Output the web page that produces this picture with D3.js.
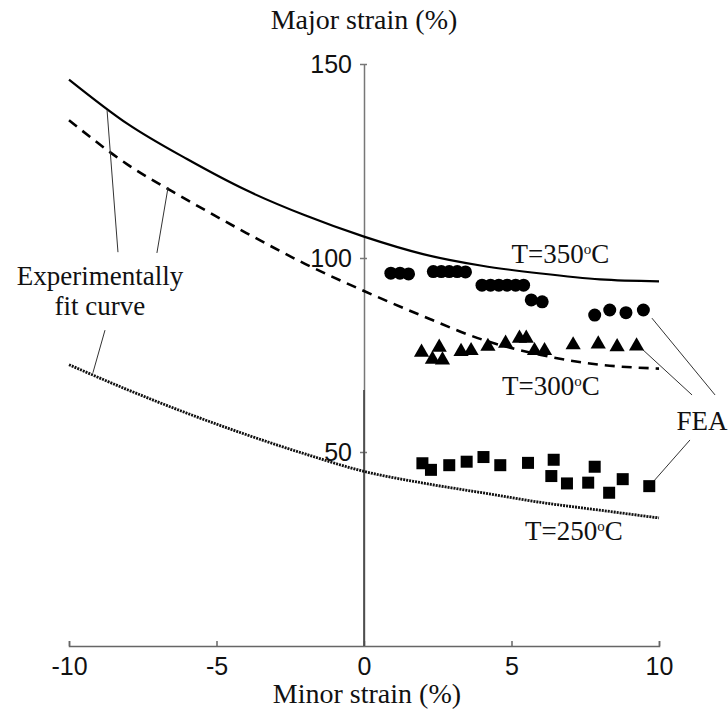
<!DOCTYPE html>
<html><head><meta charset="utf-8">
<script src="https://cdn.jsdelivr.net/npm/d3@7"></script>
<style>body{margin:0;background:#fff}svg{display:block}</style>
</head><body>
<script>
// ---- data ----
const curveX = [-10,-8,-6,-4,-2,0,2,4,6,8,10];
const fit350 = [146,134.5,125.5,117.5,111,105.5,101,98,96,94.5,94];
const fit300 = [135.5,124,115,106.5,98.5,91.5,85,79,75,72.5,71.5];
const fit250 = [72.5,66,60,54.5,49.5,45,42,39.5,37,35,33];

const fea350X = [0.91,1.22,1.51,2.35,2.62,2.89,3.16,3.44,4.0,4.29,4.57,4.85,5.14,5.41,5.67,6.04,7.82,8.33,8.88,9.47];
const fea350Y = [96.1,96.1,95.9,96.5,96.5,96.5,96.5,96.4,93.0,93.0,93.0,93.0,93.0,93.0,89.2,88.7,85.3,86.6,85.9,86.6];
const fea300X = [1.95,2.55,2.32,2.66,3.29,3.63,4.2,4.8,5.27,5.5,5.78,6.12,7.09,7.94,8.58,9.24];
const fea300Y = [75.7,77.0,73.9,73.7,75.9,76.1,77.2,78.0,79.3,79.3,76.1,76.1,77.6,77.8,77.1,77.3];
const fea250X = [1.98,2.27,2.89,3.48,4.05,4.62,5.56,6.43,6.35,6.88,7.6,7.82,8.31,8.77,9.67];
const fea250Y = [47.1,45.4,46.6,47.5,48.7,46.6,47.2,48.0,43.8,41.9,42.1,46.2,39.5,43.0,41.2];

const xTicks = [-10,-5,0,5,10];
const xTickLabels = ["-10","-5","0","5","10"];
const yTicks = [50,100,150];
const yTickLabels = ["50","100","150"];
const xTitle = "Minor strain (%)";
const yTitle = "Major strain (%)";

// annotation anchors in data units
const tempLabels = [
  {t:"350", x:5.0, y:98.7},
  {t:"300", x:4.68, y:64.7},
  {t:"250", x:5.46, y:27.3}
];
const feaLeaders = [
  [[9.76,84.5],[11.9,64.7]],
  [[9.46,76.3],[11.12,64.7]],
  [[9.8,42.3],[11.05,53.1]]
];
const fitLeaders = [
  [[-8.71,138.1],[-8.34,101.5]],
  [[-6.64,118.3],[-7.02,101.3]],
  [[-9.19,70.4],[-8.78,81.4]]
];

// ---- drawing ----
const W = 728, H = 717;
const svg = d3.select("body").append("svg").attr("width",W).attr("height",H);
const x = d3.scaleLinear().domain([-10,10]).range([69,659]);
const y = d3.scaleLinear().domain([0,150]).range([646,64]);
const serif = "'Liberation Serif','Times New Roman',serif";
const sans = "'Liberation Sans',Arial,sans-serif";

// x axis
const xAxis = svg.append("g").attr("transform",`translate(0,${y(0)})`)
  .call(d3.axisBottom(x).tickValues(xTicks).tickSizeInner(-5).tickSizeOuter(-5).tickPadding(8)
    .tickFormat((d,i)=>xTickLabels[i]));
xAxis.select(".domain").attr("stroke","#666").attr("stroke-width",1.5);
xAxis.selectAll(".tick line").attr("stroke","#666").attr("stroke-width",1.5);
xAxis.selectAll(".tick text").attr("font-family",sans).attr("font-size",25).attr("fill","#111").attr("dy","0.85em");

// y axis at x=0
const yAxis = svg.append("g").attr("transform",`translate(${x(0)},0)`)
  .call(d3.axisLeft(y).tickValues(yTicks).tickSizeInner(4).tickSizeOuter(0).tickPadding(8)
    .tickFormat((d,i)=>yTickLabels[i]));
yAxis.select(".domain").attr("stroke","#777").attr("stroke-width",1.5);
yAxis.selectAll(".tick line").attr("stroke","#777").attr("stroke-width",1.5).attr("x2",3).attr("x1",-4);
yAxis.selectAll(".tick text").attr("font-family",sans).attr("font-size",25).attr("fill","#111");
svg.append("line").attr("x1",x(0)).attr("x2",x(0)).attr("y1",y(66)).attr("y2",y(0))
  .attr("stroke","#444").attr("stroke-width",1.6);

// titles
svg.append("text").attr("x",x(0)).attr("y",29).attr("text-anchor","middle")
  .attr("font-family",serif).attr("font-size",28).attr("fill","#111").text(yTitle);
svg.append("text").attr("x",x(0.1)).attr("y",703).attr("text-anchor","middle")
  .attr("font-family",serif).attr("font-size",28).attr("fill","#111").text(xTitle);

// fit curves
const line = d3.line().x(d=>x(d[0])).y(d=>y(d[1])).curve(d3.curveMonotoneX);
const mk = arr => curveX.map((v,i)=>[v,arr[i]]);
svg.append("path").attr("d",line(mk(fit350))).attr("fill","none").attr("stroke","#000").attr("stroke-width",2.2);
svg.append("path").attr("d",line(mk(fit300))).attr("fill","none").attr("stroke","#000").attr("stroke-width",2.6).attr("stroke-dasharray","10,7");
svg.append("path").attr("d",line(mk(fit250))).attr("fill","none").attr("stroke","#111").attr("stroke-width",2.8).attr("stroke-dasharray","2,1");

// leaders
const seg = d3.line().x(d=>x(d[0])).y(d=>y(d[1]));
feaLeaders.concat(fitLeaders).forEach(l=>{
  svg.append("path").attr("d",seg(l)).attr("fill","none").attr("stroke","#333").attr("stroke-width",1);
});

// FEA markers
svg.append("g").selectAll("circle").data(fea350X.map((v,i)=>[v,fea350Y[i]])).join("circle")
  .attr("cx",d=>x(d[0])).attr("cy",d=>y(d[1])).attr("r",6.5).attr("fill","#000");
const tri = d3.symbol().type(d3.symbolTriangle).size(100);
svg.append("g").selectAll("path").data(fea300X.map((v,i)=>[v,fea300Y[i]])).join("path")
  .attr("d",tri).attr("transform",d=>`translate(${x(d[0])},${y(d[1])})`).attr("fill","#000");
svg.append("g").selectAll("rect").data(fea250X.map((v,i)=>[v,fea250Y[i]])).join("rect")
  .attr("x",d=>x(d[0])-6).attr("y",d=>y(d[1])-6).attr("width",12).attr("height",12).attr("fill","#000");

// temperature labels
tempLabels.forEach(l=>{
  const t = svg.append("text").attr("x",x(l.x)).attr("y",y(l.y))
    .attr("font-family",serif).attr("font-size",27).attr("fill","#111");
  t.append("tspan").text("T="+l.t);
  t.append("tspan").attr("font-size",15).attr("dy",-9).text("o");
  t.append("tspan").attr("dy",9).text("C");
});

// FEA label
svg.append("text").attr("x",x(11.46)).attr("y",y(55.7)).attr("text-anchor","middle")
  .attr("font-family",serif).attr("font-size",27).attr("fill","#111").text("FEA");

// Experimentally fit curve label
svg.append("text").attr("x",x(-8.95)).attr("y",y(93)).attr("text-anchor","middle")
  .attr("font-family",serif).attr("font-size",27).attr("fill","#111").text("Experimentally");
svg.append("text").attr("x",x(-8.95)).attr("y",y(85.3)).attr("text-anchor","middle")
  .attr("font-family",serif).attr("font-size",27).attr("fill","#111").text("fit curve");
</script>
</body></html>
